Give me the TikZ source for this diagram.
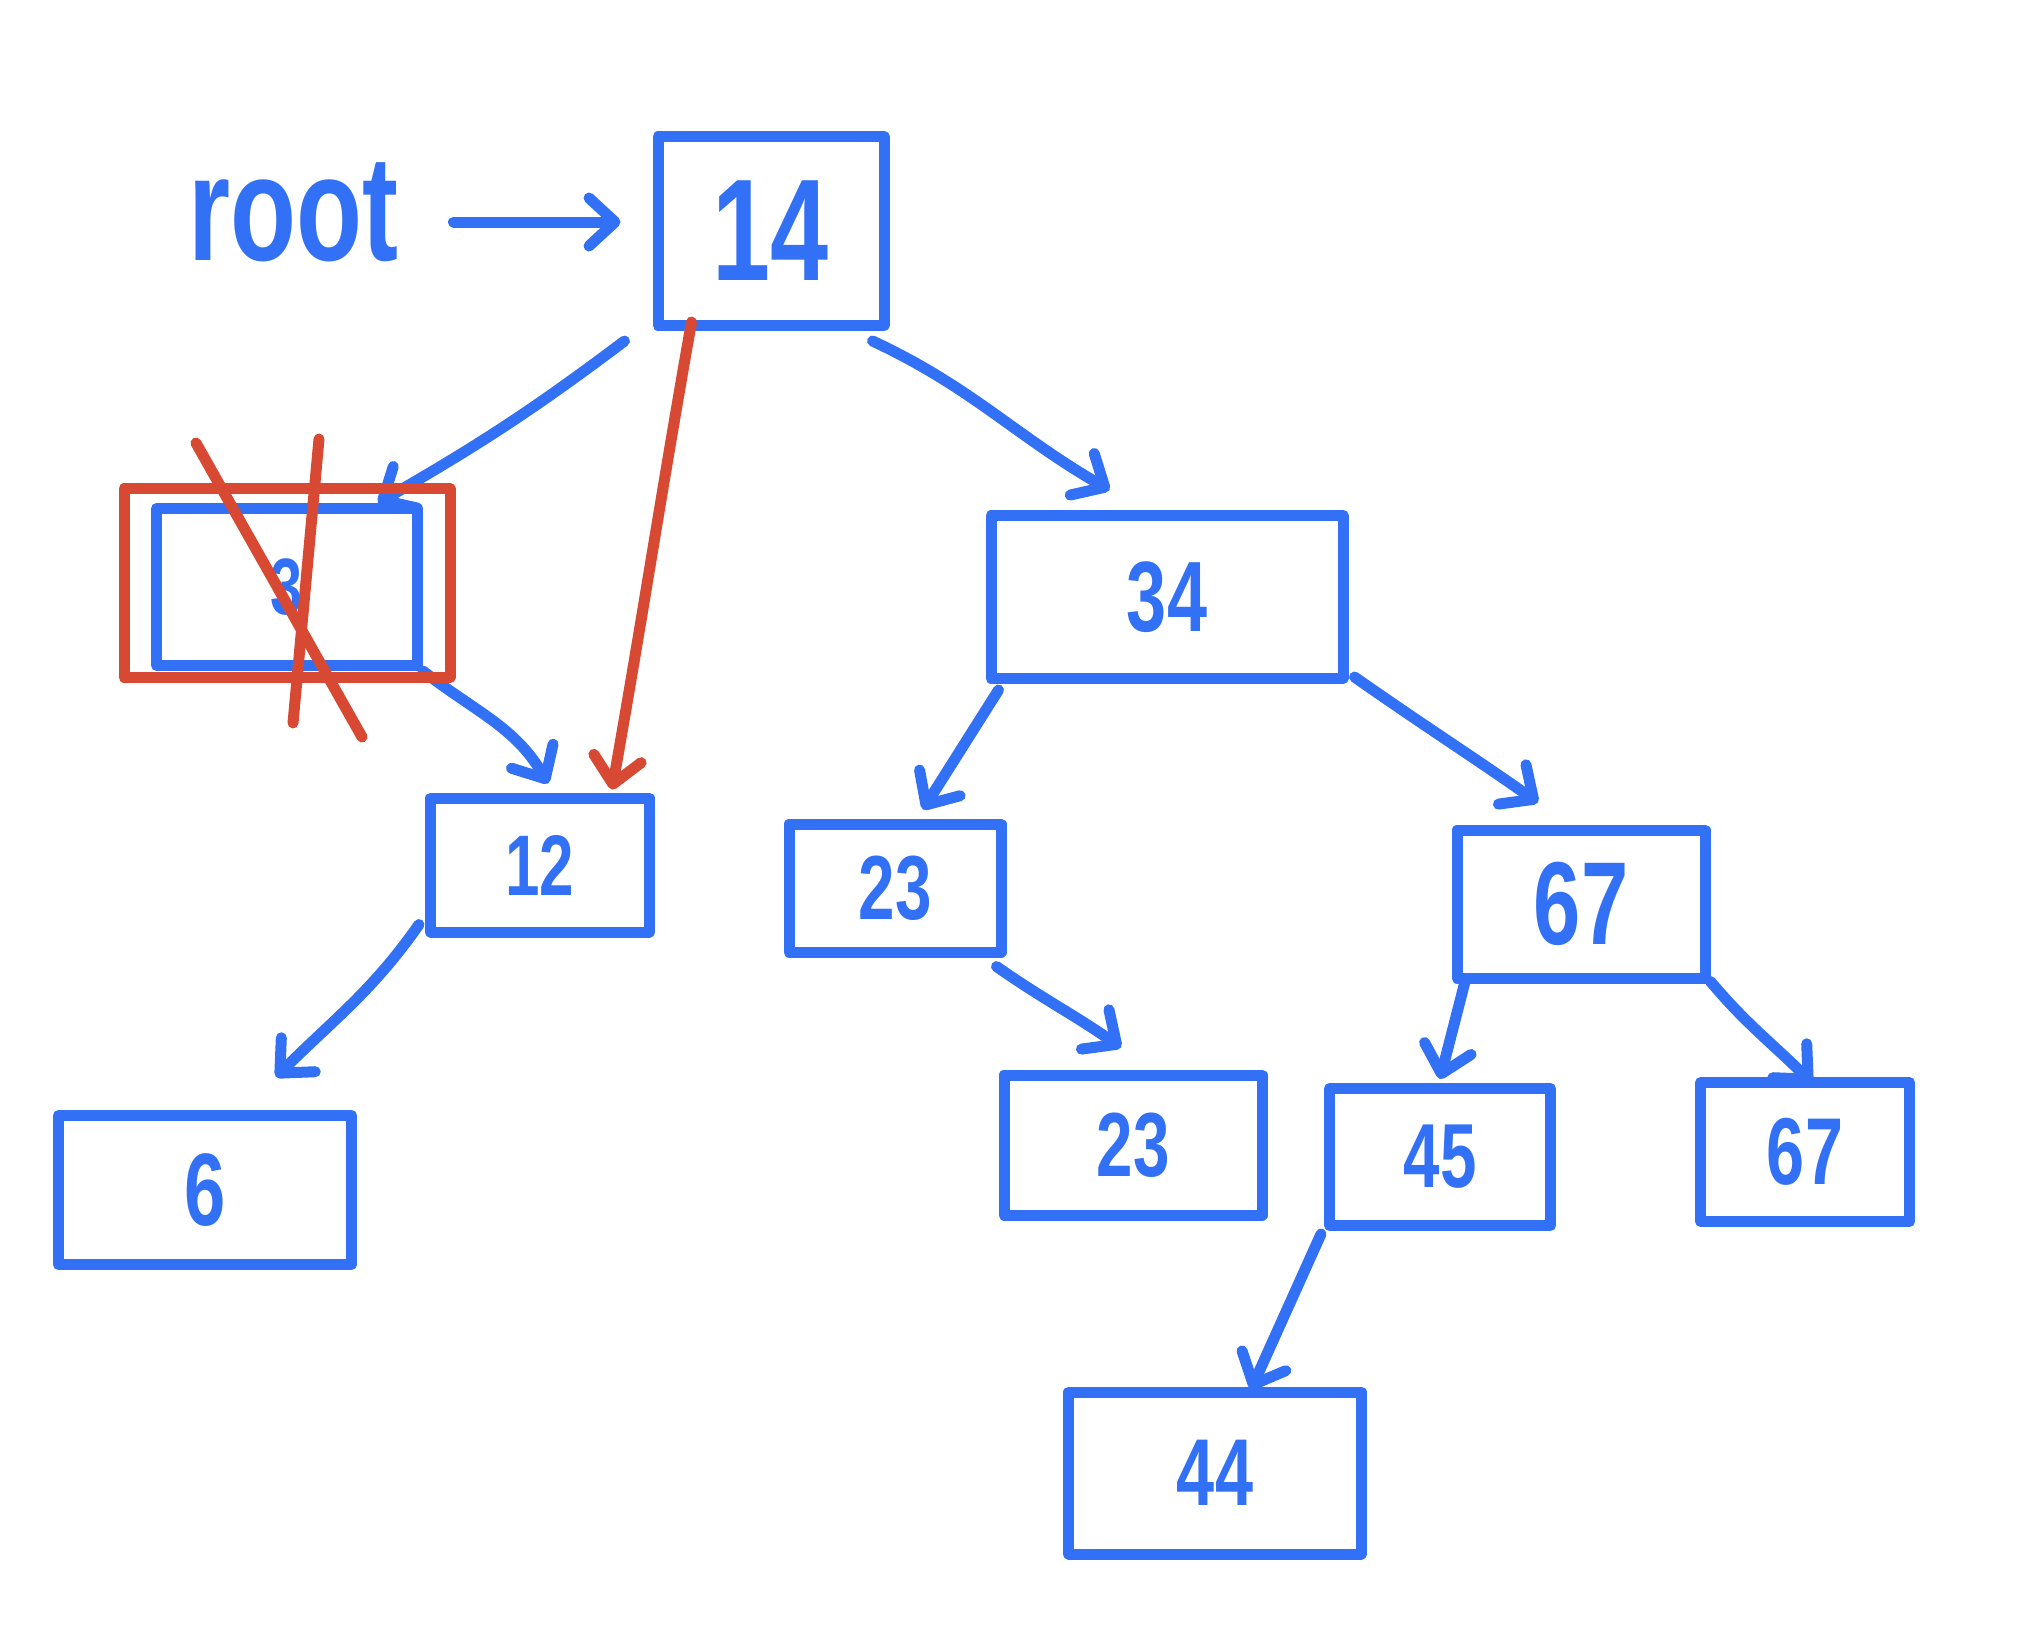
\documentclass[tikz,border=0pt]{standalone}
\usepackage{fontspec}
\setmainfont{Liberation Sans}
\newfontfamily\handfont[FakeStretch=0.72]{Liberation Sans}
\usetikzlibrary{arrows.meta}
\definecolor{ink}{RGB}{50,113,245}
\definecolor{redink}{RGB}{216,73,52}
\newcommand{\handsz}[1]{\handfont\bfseries\fontsize{#1}{#1}\selectfont}
\begin{document}
\begin{tikzpicture}[x=1pt,y=-1pt,
  box/.style={draw=ink, text=ink, line width=11pt, line join=round, inner sep=0pt},
  arr/.style={draw=ink, line width=11pt, line cap=round,
    -{Straight Barb[length=26pt,width=48pt,round]}},
  redarr/.style={draw=redink, line width=11pt, line cap=round,
    -{Straight Barb[length=26pt,width=48pt,round]}},
  strike/.style={draw=redink, line width=11pt, line cap=round, line join=round}]
\useasboundingbox (0,0) rectangle (2044,1642);

% tree nodes
\node[box, minimum width=226pt, minimum height=189pt, font=\handsz{145}] (n14) at (771,231) {14};
\node[box, minimum width=261pt, minimum height=157pt, font=\handsz{80}] (n3) at (287,587) {3};
\node[box, minimum width=219pt, minimum height=134pt, font=\handsz{86}] (n12) at (540,865) {12};
\node[box, minimum width=293pt, minimum height=149pt, font=\handsz{103}] (n6) at (205,1190) {6};
\node[box, minimum width=352pt, minimum height=163pt, font=\handsz{100}] (n34) at (1167,597) {34};
\node[box, minimum width=212pt, minimum height=128pt, font=\handsz{91}] (n23a) at (895,888) {23};
\node[box, minimum width=248pt, minimum height=148pt, font=\handsz{118}] (n67a) at (1581,904) {67};
\node[box, minimum width=258pt, minimum height=140pt, font=\handsz{91}] (n23b) at (1133,1145) {23};
\node[box, minimum width=221pt, minimum height=137pt, font=\handsz{91}] (n45) at (1440,1157) {45};
\node[box, minimum width=209pt, minimum height=139pt, font=\handsz{95}] (n67b) at (1805,1152) {67};
\node[box, minimum width=293pt, minimum height=162pt, font=\handsz{95}] (n44) at (1215,1473) {44};

% root pointer
\node[text=ink, font=\handsz{150}] (root) at (293,212) {root};
\coordinate (rootout) at ([shift={(52,10)}]root.east);
\draw[arr, shorten >=32pt] (rootout) -- (rootout -| n14.west);

% child links
\draw[arr] ([shift={(-28,10)}]n14.south west) to[out=-143,in=30] ([xshift=-45pt]n3.north east);
\draw[arr] ([shift={(-17,10)}]n14.south east) to[out=-25,in=150] ([shift={(124,-20)}]n34.north west);
\draw[arr] (n3.south east) to[out=-38,in=120] ([shift={(8,-9)}]n12.north);
\draw[arr] ([shift={(-6,-13)}]n12.south west) to[out=-125,in=45] ([shift={(71,-33)}]n6.north);
\draw[arr] ([shift={(13,6)}]n34.south west) -- ([shift={(28,-9)}]n23a.north);
\draw[arr] ([shift={(6,-7)}]n34.south east) to[out=-35,in=145] ([shift={(-43,-22)}]n67a.north);
\draw[arr] ([shift={(-10,9)}]n23a.south east) to[out=-35,in=145] ([shift={(-12,-22)}]n23b.north);
\draw[arr] ([xshift=13pt]n67a.south west) -- ([yshift=4pt]n45.north);
\draw[arr] ([yshift=2pt]n67a.south east) to[out=-50,in=135] ([shift={(7,6)}]n67b.north);
\draw[arr] ([shift={(-3,3)}]n45.south west) -- ([shift={(36,3)}]n44.north);

% deletion: node 3 struck out, 14 relinked to 12
\node[strike, minimum width=326pt, minimum height=189pt] (gone) at (287,583) {};
\draw[strike] (196,443) -- (362,737);
\draw[strike] (319,439) -- (293,723);
\draw[redarr] ([shift={(39,-9)}]n14.south west) to[out=-100,in=80] ([shift={(-43,-3)}]n12.north east);
\end{tikzpicture}
\end{document}
